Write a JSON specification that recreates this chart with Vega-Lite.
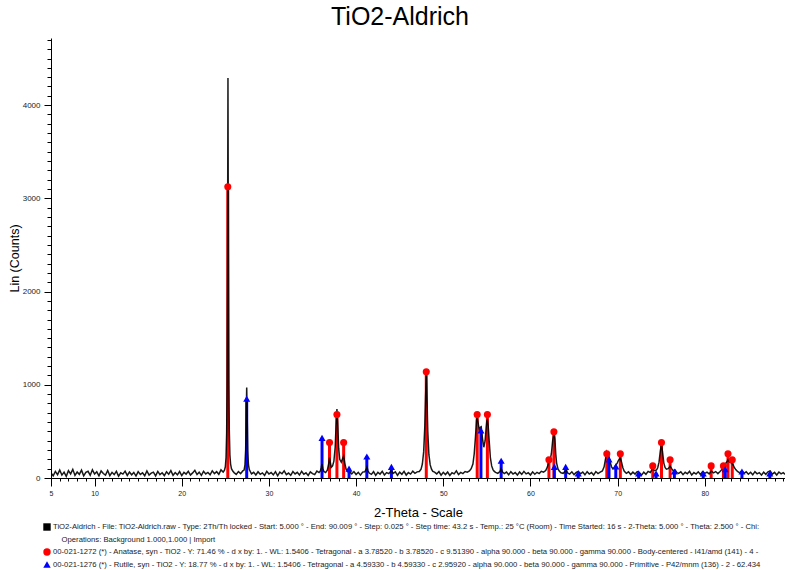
{
"$schema": "https://vega.github.io/schema/vega-lite/v6.json",
"width": 734, "height": 440,
"autosize": {"type": "none"},
"padding": {"left": 51, "top": 38, "right": 0, "bottom": 92},
"background": "white",
"title": {"text": "TiO2-Aldrich", "fontSize": 25, "font": "Liberation Sans", "fontWeight": "normal", "color": "black", "anchor": "middle", "offset": 8, "dx": -18},
"config": {"view": {"stroke": null}, "font": "Liberation Sans",
  "axis": {"grid": false, "domainColor": "black", "tickColor": "black", "labelColor": "#222", "titleColor": "black", "titleFontWeight": "normal", "titleFont": "Liberation Sans", "labelFont": "Liberation Sans"},
  "legend": {"orient": "none", "legendX": -8, "legendY": 485, "direction": "vertical", "padding": 0, "rowPadding": 4.5, "symbolSize": 55, "labelFontSize": 7.7, "labelLimit": 1000, "labelOffset": 2, "labelColor": "#222", "symbolStrokeWidth": 0}},
"datasets": {
"pattern": [
{"x":5,"y":53},{"x":5.25,"y":24},{"x":5.5,"y":71},{"x":5.75,"y":36},{"x":6,"y":85},{"x":6.25,"y":31},{"x":6.5,"y":63},{"x":6.75,"y":18},{"x":7,"y":79},{"x":7.25,"y":44},{"x":7.5,"y":93},{"x":7.75,"y":28},{"x":8,"y":64},{"x":8.25,"y":39},{"x":8.5,"y":84},{"x":8.75,"y":23},{"x":9,"y":60},{"x":9.25,"y":72},{"x":9.5,"y":29},{"x":9.75,"y":88},{"x":10,"y":42},{"x":10.25,"y":66},{"x":10.5,"y":23},{"x":10.75,"y":76},{"x":11,"y":48},{"x":11.25,"y":32},{"x":11.5,"y":80},{"x":11.75,"y":26},{"x":12,"y":61},{"x":12.25,"y":37},{"x":12.5,"y":71},{"x":12.75,"y":20},{"x":13,"y":56},{"x":13.25,"y":42},{"x":13.5,"y":74},{"x":13.75,"y":28},{"x":14,"y":64},{"x":14.25,"y":34},{"x":14.5,"y":60},{"x":14.75,"y":21},{"x":15,"y":69},{"x":15.25,"y":39},{"x":15.5,"y":55},{"x":15.75,"y":24},{"x":16,"y":76},{"x":16.25,"y":31},{"x":16.5,"y":52},{"x":16.75,"y":63},{"x":17,"y":23},{"x":17.25,"y":71},{"x":17.5,"y":36},{"x":17.75,"y":56},{"x":18,"y":26},{"x":18.25,"y":66},{"x":18.5,"y":40},{"x":18.75,"y":79},{"x":19,"y":29},{"x":19.25,"y":58},{"x":19.5,"y":34},{"x":19.75,"y":69},{"x":20,"y":26},{"x":20.25,"y":61},{"x":20.5,"y":42},{"x":20.75,"y":72},{"x":21,"y":31},{"x":21.25,"y":55},{"x":21.5,"y":82},{"x":21.75,"y":37},{"x":22,"y":63},{"x":22.25,"y":28},{"x":22.5,"y":71},{"x":22.75,"y":44},{"x":23,"y":60},{"x":23.25,"y":34},{"x":23.5,"y":77},{"x":23.75,"y":47},{"x":24,"y":68},{"x":24.25,"y":40},{"x":24.5,"y":87},{"x":24.75,"y":63},{"x":24.9,"y":85},{"x":25,"y":120},{"x":25.08,"y":220},{"x":25.15,"y":480},{"x":25.2,"y":1000},{"x":25.25,"y":2300},{"x":25.3,"y":4290},{"x":25.35,"y":2400},{"x":25.4,"y":1050},{"x":25.45,"y":520},{"x":25.52,"y":250},{"x":25.6,"y":150},{"x":25.7,"y":100},{"x":25.85,"y":75},{"x":26,"y":58},{"x":26.25,"y":39},{"x":26.5,"y":69},{"x":26.75,"y":47},{"x":27,"y":76},{"x":27.15,"y":85},{"x":27.25,"y":140},{"x":27.33,"y":300},{"x":27.4,"y":700},{"x":27.45,"y":970},{"x":27.5,"y":680},{"x":27.57,"y":290},{"x":27.65,"y":140},{"x":27.75,"y":90},{"x":27.9,"y":62},{"x":28,"y":44},{"x":28.25,"y":61},{"x":28.5,"y":32},{"x":28.75,"y":66},{"x":29,"y":39},{"x":29.25,"y":55},{"x":29.5,"y":28},{"x":29.75,"y":72},{"x":30,"y":42},{"x":30.25,"y":58},{"x":30.5,"y":34},{"x":30.75,"y":68},{"x":31,"y":24},{"x":31.25,"y":63},{"x":31.5,"y":45},{"x":31.75,"y":76},{"x":32,"y":36},{"x":32.25,"y":53},{"x":32.5,"y":29},{"x":32.75,"y":69},{"x":33,"y":44},{"x":33.25,"y":61},{"x":33.5,"y":32},{"x":33.75,"y":71},{"x":34,"y":40},{"x":34.25,"y":56},{"x":34.5,"y":28},{"x":34.75,"y":66},{"x":35,"y":47},{"x":35.25,"y":37},{"x":35.5,"y":74},{"x":35.75,"y":58},{"x":35.9,"y":75},{"x":36,"y":110},{"x":36.08,"y":150},{"x":36.17,"y":105},{"x":36.3,"y":70},{"x":36.5,"y":58},{"x":36.7,"y":85},{"x":36.85,"y":150},{"x":36.95,"y":220},{"x":37.05,"y":165},{"x":37.15,"y":115},{"x":37.3,"y":130},{"x":37.45,"y":180},{"x":37.6,"y":330},{"x":37.7,"y":560},{"x":37.8,"y":740},{"x":37.9,"y":560},{"x":38,"y":320},{"x":38.12,"y":200},{"x":38.3,"y":170},{"x":38.45,"y":210},{"x":38.57,"y":235},{"x":38.7,"y":160},{"x":38.85,"y":95},{"x":39,"y":70},{"x":39.2,"y":88},{"x":39.35,"y":58},{"x":39.5,"y":44},{"x":39.75,"y":69},{"x":40,"y":37},{"x":40.25,"y":61},{"x":40.5,"y":31},{"x":40.75,"y":63},{"x":41,"y":66},{"x":41.15,"y":92},{"x":41.25,"y":118},{"x":41.35,"y":80},{"x":41.5,"y":53},{"x":41.75,"y":39},{"x":42,"y":68},{"x":42.25,"y":28},{"x":42.5,"y":60},{"x":42.75,"y":42},{"x":43,"y":71},{"x":43.25,"y":32},{"x":43.5,"y":58},{"x":43.75,"y":47},{"x":44.05,"y":80},{"x":44.25,"y":50},{"x":44.5,"y":66},{"x":44.75,"y":29},{"x":45,"y":63},{"x":45.25,"y":40},{"x":45.5,"y":71},{"x":45.75,"y":31},{"x":46,"y":58},{"x":46.25,"y":42},{"x":46.5,"y":74},{"x":46.75,"y":50},{"x":47,"y":66},{"x":47.25,"y":70},{"x":47.45,"y":95},{"x":47.6,"y":150},{"x":47.75,"y":280},{"x":47.88,"y":550},{"x":47.97,"y":880},{"x":48.05,"y":1100},{"x":48.13,"y":850},{"x":48.22,"y":500},{"x":48.35,"y":250},{"x":48.5,"y":140},{"x":48.65,"y":95},{"x":48.8,"y":70},{"x":49,"y":63},{"x":49.25,"y":44},{"x":49.5,"y":69},{"x":49.75,"y":31},{"x":50,"y":61},{"x":50.25,"y":37},{"x":50.5,"y":64},{"x":50.75,"y":28},{"x":51,"y":56},{"x":51.25,"y":44},{"x":51.5,"y":76},{"x":51.75,"y":36},{"x":52,"y":60},{"x":52.25,"y":47},{"x":52.5,"y":69},{"x":52.75,"y":63},{"x":53,"y":75},{"x":53.2,"y":100},{"x":53.4,"y":150},{"x":53.55,"y":260},{"x":53.7,"y":450},{"x":53.82,"y":620},{"x":53.9,"y":650},{"x":54,"y":590},{"x":54.12,"y":520},{"x":54.25,"y":545},{"x":54.35,"y":550},{"x":54.5,"y":420},{"x":54.65,"y":330},{"x":54.8,"y":400},{"x":54.92,"y":540},{"x":55,"y":615},{"x":55.07,"y":625},{"x":55.15,"y":560},{"x":55.28,"y":380},{"x":55.4,"y":220},{"x":55.55,"y":130},{"x":55.7,"y":90},{"x":55.85,"y":70},{"x":56,"y":60},{"x":56.25,"y":50},{"x":56.5,"y":70},{"x":56.64,"y":100},{"x":56.8,"y":63},{"x":57,"y":47},{"x":57.25,"y":63},{"x":57.5,"y":34},{"x":57.75,"y":68},{"x":58,"y":42},{"x":58.25,"y":58},{"x":58.5,"y":31},{"x":58.75,"y":64},{"x":59,"y":39},{"x":59.25,"y":71},{"x":59.5,"y":44},{"x":59.75,"y":56},{"x":60,"y":32},{"x":60.25,"y":66},{"x":60.5,"y":40},{"x":60.75,"y":61},{"x":61,"y":47},{"x":61.25,"y":72},{"x":61.5,"y":63},{"x":61.75,"y":80},{"x":61.95,"y":120},{"x":62.1,"y":180},{"x":62.25,"y":190},{"x":62.4,"y":260},{"x":62.55,"y":400},{"x":62.69,"y":485},{"x":62.8,"y":420},{"x":62.9,"y":260},{"x":63,"y":160},{"x":63.15,"y":100},{"x":63.3,"y":75},{"x":63.5,"y":56},{"x":63.75,"y":50},{"x":64,"y":75},{"x":64.1,"y":88},{"x":64.25,"y":55},{"x":64.5,"y":42},{"x":64.75,"y":66},{"x":65,"y":36},{"x":65.25,"y":60},{"x":65.5,"y":70},{"x":65.75,"y":45},{"x":66,"y":63},{"x":66.25,"y":34},{"x":66.5,"y":68},{"x":66.75,"y":42},{"x":67,"y":58},{"x":67.25,"y":31},{"x":67.5,"y":69},{"x":67.75,"y":47},{"x":68,"y":63},{"x":68.25,"y":75},{"x":68.45,"y":120},{"x":68.6,"y":200},{"x":68.76,"y":280},{"x":68.9,"y":250},{"x":69,"y":230},{"x":69.15,"y":170},{"x":69.3,"y":120},{"x":69.45,"y":100},{"x":69.6,"y":110},{"x":69.8,"y":140},{"x":69.95,"y":160},{"x":70.1,"y":190},{"x":70.3,"y":215},{"x":70.45,"y":170},{"x":70.6,"y":110},{"x":70.75,"y":75},{"x":70.9,"y":58},{"x":71,"y":50},{"x":71.25,"y":66},{"x":71.5,"y":37},{"x":71.75,"y":63},{"x":72,"y":42},{"x":72.25,"y":69},{"x":72.5,"y":58},{"x":72.75,"y":31},{"x":73,"y":63},{"x":73.25,"y":40},{"x":73.5,"y":71},{"x":73.75,"y":60},{"x":74,"y":100},{"x":74.2,"y":80},{"x":74.45,"y":85},{"x":74.6,"y":110},{"x":74.75,"y":170},{"x":74.9,"y":290},{"x":75.03,"y":360},{"x":75.15,"y":280},{"x":75.3,"y":160},{"x":75.45,"y":110},{"x":75.6,"y":95},{"x":75.8,"y":100},{"x":76.02,"y":125},{"x":76.2,"y":100},{"x":76.4,"y":75},{"x":76.6,"y":85},{"x":76.8,"y":58},{"x":77,"y":50},{"x":77.25,"y":66},{"x":77.5,"y":36},{"x":77.75,"y":61},{"x":78,"y":45},{"x":78.25,"y":72},{"x":78.5,"y":32},{"x":78.75,"y":58},{"x":79,"y":42},{"x":79.25,"y":66},{"x":79.5,"y":37},{"x":79.75,"y":69},{"x":80,"y":50},{"x":80.25,"y":63},{"x":80.5,"y":44},{"x":80.75,"y":75},{"x":81,"y":55},{"x":81.25,"y":69},{"x":81.5,"y":47},{"x":81.75,"y":70},{"x":82,"y":95},{"x":82.15,"y":120},{"x":82.35,"y":150},{"x":82.5,"y":170},{"x":82.66,"y":195},{"x":82.8,"y":175},{"x":82.95,"y":165},{"x":83.1,"y":160},{"x":83.25,"y":140},{"x":83.4,"y":110},{"x":83.55,"y":90},{"x":83.75,"y":70},{"x":84,"y":56},{"x":84.25,"y":75},{"x":84.5,"y":50},{"x":84.75,"y":66},{"x":85,"y":40},{"x":85.25,"y":61},{"x":85.5,"y":34},{"x":85.75,"y":68},{"x":86,"y":44},{"x":86.25,"y":58},{"x":86.5,"y":31},{"x":86.75,"y":63},{"x":87,"y":39},{"x":87.25,"y":66},{"x":87.5,"y":76},{"x":87.75,"y":42},{"x":88,"y":60},{"x":88.25,"y":32},{"x":88.5,"y":64},{"x":88.75,"y":44},{"x":89,"y":58},{"x":89.2,"y":39}
],
"sticks": [
{"x":25.28,"y":3125,"s":"anatase"},{"x":36.95,"y":380,"s":"anatase"},{"x":37.8,"y":680,"s":"anatase"},{"x":38.57,"y":380,"s":"anatase"},{"x":48.05,"y":1140,"s":"anatase"},{"x":53.89,"y":680,"s":"anatase"},{"x":55.06,"y":680,"s":"anatase"},{"x":62.12,"y":195,"s":"anatase"},{"x":62.69,"y":495,"s":"anatase"},{"x":68.76,"y":260,"s":"anatase"},{"x":70.31,"y":260,"s":"anatase"},{"x":74.03,"y":130,"s":"anatase"},{"x":75.03,"y":380,"s":"anatase"},{"x":76.02,"y":195,"s":"anatase"},{"x":80.73,"y":130,"s":"anatase"},{"x":82.14,"y":130,"s":"anatase"},{"x":82.66,"y":260,"s":"anatase"},{"x":83.15,"y":195,"s":"anatase"},
{"x":27.45,"y":850,"s":"rutile"},{"x":36.09,"y":430,"s":"rutile"},{"x":39.19,"y":100,"s":"rutile"},{"x":41.23,"y":230,"s":"rutile"},{"x":44.05,"y":120,"s":"rutile"},{"x":54.32,"y":510,"s":"rutile"},{"x":56.64,"y":185,"s":"rutile"},{"x":62.74,"y":120,"s":"rutile"},{"x":64.04,"y":120,"s":"rutile"},{"x":65.48,"y":50,"s":"rutile"},{"x":69.01,"y":200,"s":"rutile"},{"x":69.79,"y":125,"s":"rutile"},{"x":72.41,"y":50,"s":"rutile"},{"x":74.41,"y":50,"s":"rutile"},{"x":76.51,"y":70,"s":"rutile"},{"x":79.82,"y":50,"s":"rutile"},{"x":82.34,"y":95,"s":"rutile"},{"x":84.26,"y":70,"s":"rutile"},{"x":87.46,"y":50,"s":"rutile"}
]
},
"layer": [
{"data": {"name": "sticks"},
 "mark": {"type": "rule", "strokeWidth": 3},
 "encoding": {
  "x": {"field": "x", "type": "quantitative", "axis": {"orient": "bottom", "tickCount": 85, "labels": false, "tickSize": 3, "domain": false, "title": null}},
  "y": {"field": "y", "type": "quantitative", "axis": {"orient": "left", "tickCount": 47, "labels": false, "tickSize": 4, "domain": false, "title": null}},
  "y2": {"datum": 0},
  "color": {"field": "s", "type": "nominal", "title": null, "scale": {"domain": ["pattern","ops","anatase","rutile"], "range": ["black","transparent","#ff0000","#0000ff"]}}
 }},
{"data": {"name": "pattern"},
 "mark": {"type": "line", "color": "black", "strokeWidth": 1.5, "opacity": 0.9, "clip": true},
 "encoding": {
  "x": {"field": "x", "type": "quantitative", "scale": {"domain": [5, 89.2], "nice": false, "zero": false},
        "axis": {"orient": "bottom", "values": [5,10,20,30,40,50,60,70,80], "tickSize": 8, "labelFontSize": 7, "labelPadding": 3, "labelFlush": false, "title": "2-Theta - Scale", "titleFontSize": 13, "titlePadding": 10}},
  "y": {"field": "y", "type": "quantitative", "scale": {"domain": [0, 4720], "nice": false},
        "axis": {"orient": "left", "values": [0,1000,2000,3000,4000], "format": "d", "tickSize": 7, "labelFontSize": 8, "labelPadding": 4, "title": "Lin (Counts)", "titleFontSize": 12.5, "titlePadding": 1}}
 }},
{"data": {"name": "sticks"},
 "mark": {"type": "point", "filled": true, "opacity": 1, "size": 50},
 "encoding": {
  "x": {"field": "x", "type": "quantitative", "axis": null},
  "y": {"field": "y", "type": "quantitative", "axis": null},
  "color": {"field": "s", "type": "nominal", "title": null,
    "legend": {"labelExpr": "datum.value == 'pattern' ? 'TiO2-Aldrich - File: TiO2-Aldrich.raw - Type: 2Th/Th locked - Start: 5.000 ° - End: 90.009 ° - Step: 0.025 ° - Step time: 43.2 s - Temp.: 25 °C (Room) - Time Started: 16 s - 2-Theta: 5.000 ° - Theta: 2.500 ° - Chi:' : datum.value == 'ops' ? '\u200b\u00a0\u00a0\u00a0\u00a0Operations: Background 1.000,1.000 | Import' : datum.value == 'anatase' ? '00-021-1272 (*) - Anatase, syn - TiO2 - Y: 71.46 % - d x by: 1. - WL: 1.5406 - Tetragonal - a 3.78520 - b 3.78520 - c 9.51390 - alpha 90.000 - beta 90.000 - gamma 90.000 - Body-centered - I41/amd (141) - 4 -' : '00-021-1276 (*) - Rutile, syn - TiO2 - Y: 18.77 % - d x by: 1. - WL: 1.5406 - Tetragonal - a 4.59330 - b 4.59330 - c 2.95920 - alpha 90.000 - beta 90.000 - gamma 90.000 - Primitive - P42/mnm (136) - 2 - 62.434'"}},
  "shape": {"field": "s", "type": "nominal", "title": null, "scale": {"domain": ["pattern","ops","anatase","rutile"], "range": ["square","square","circle","triangle-up"]},
    "legend": {"labelExpr": "datum.value == 'pattern' ? 'TiO2-Aldrich - File: TiO2-Aldrich.raw - Type: 2Th/Th locked - Start: 5.000 ° - End: 90.009 ° - Step: 0.025 ° - Step time: 43.2 s - Temp.: 25 °C (Room) - Time Started: 16 s - 2-Theta: 5.000 ° - Theta: 2.500 ° - Chi:' : datum.value == 'ops' ? '\u200b\u00a0\u00a0\u00a0\u00a0Operations: Background 1.000,1.000 | Import' : datum.value == 'anatase' ? '00-021-1272 (*) - Anatase, syn - TiO2 - Y: 71.46 % - d x by: 1. - WL: 1.5406 - Tetragonal - a 3.78520 - b 3.78520 - c 9.51390 - alpha 90.000 - beta 90.000 - gamma 90.000 - Body-centered - I41/amd (141) - 4 -' : '00-021-1276 (*) - Rutile, syn - TiO2 - Y: 18.77 % - d x by: 1. - WL: 1.5406 - Tetragonal - a 4.59330 - b 4.59330 - c 2.95920 - alpha 90.000 - beta 90.000 - gamma 90.000 - Primitive - P42/mnm (136) - 2 - 62.434'"}}
 }}
],
"resolve": {"axis": {"x": "independent", "y": "independent"}}
}
